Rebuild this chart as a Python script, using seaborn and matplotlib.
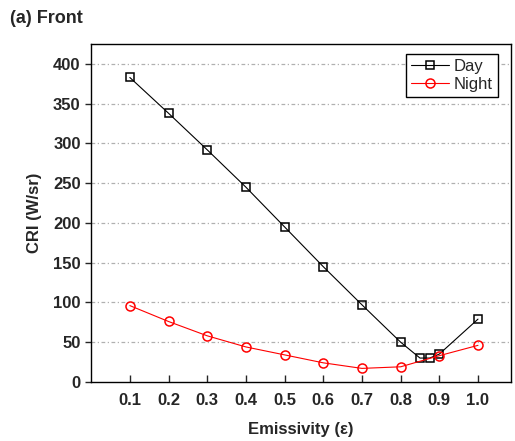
import seaborn as sns
import matplotlib.pyplot as plt

# valores
day_x = [0.1, 0.2, 0.3, 0.4, 0.5, 0.6, 0.7, 0.8, 0.85, 0.875, 0.9, 1.0]
day_y = [383, 338, 292, 245, 195, 145, 97, 50, 30, 30, 35, 79]
night_x = [0.1, 0.2, 0.3, 0.4, 0.5, 0.6, 0.7, 0.8, 0.9, 1.0]
night_y = [96, 76, 58, 44, 34, 24, 17, 19, 33, 46]
xticks = [0.1, 0.2, 0.3, 0.4, 0.5, 0.6, 0.7, 0.8, 0.9, 1.0]
yticks = [0, 50, 100, 150, 200, 250, 300, 350, 400]

sns.set_style("ticks")
plt.rcParams['font.family'] = ['Liberation Sans', 'DejaVu Sans']

fig = plt.figure(figsize=(5.15, 4.41), dpi=100)
ax = fig.add_axes([0.177, 0.134, 0.815, 0.766])

sns.lineplot(x=day_x, y=day_y, color='black', marker='s', markersize=5.5,
             markerfacecolor='none', markeredgecolor='black', markeredgewidth=1.1,
             linewidth=0.8, label='Day', ax=ax, sort=False)
sns.lineplot(x=night_x, y=night_y, color='red', marker='o', markersize=6.5,
             markerfacecolor='none', markeredgecolor='red', markeredgewidth=1.1,
             linewidth=0.8, label='Night', ax=ax, sort=False)

for yv in yticks[1:]:
    ax.axhline(yv, color='#b0b0b0', lw=0.9, ls=(0, (3, 2, 1, 2)), zorder=0)

ax.set_xlim(0, 1.085)
ax.set_ylim(0, 425)
ax.set_xticks(xticks)
ax.set_xticklabels([f'{v:.1f}' for v in xticks])
ax.set_yticks(yticks)
ax.tick_params(axis='x', direction='in', length=5, width=1, labelsize=12, pad=8)
ax.tick_params(axis='y', direction='out', length=4, width=1, labelsize=12)
for lab in ax.get_xticklabels() + ax.get_yticklabels():
    lab.set_fontweight('bold')
for s in ax.spines.values():
    s.set_linewidth(1.0)
    s.set_color('black')

ax.set_xlabel('Emissivity (ε)', fontsize=12, fontweight='bold', labelpad=10)
ax.set_ylabel('CRI (W/sr)', fontsize=12, fontweight='bold', labelpad=8)

leg = ax.legend(loc='upper right', bbox_to_anchor=(0.969, 0.97), borderaxespad=0,
                fontsize=12, frameon=True, fancybox=False, edgecolor='black',
                handlelength=2.3, handletextpad=0.3, borderpad=0.3,
                labelspacing=0.15)
leg.get_frame().set_linewidth(1.0)
leg.get_frame().set_alpha(1)

fig.text(0.02, 0.958, '(a) Front', fontsize=13, fontweight='bold', va='center')

plt.savefig('out.png', dpi=100)
